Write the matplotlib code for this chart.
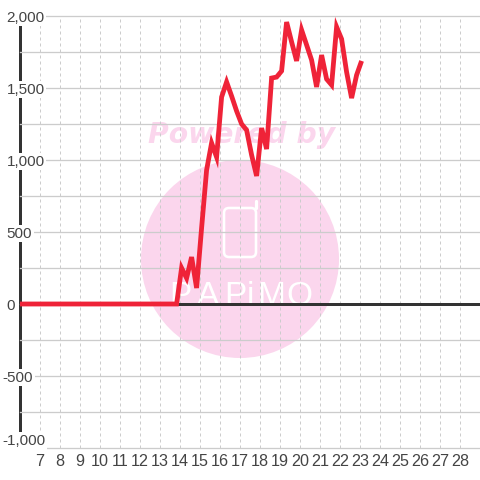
import matplotlib
matplotlib.use("Agg")
import matplotlib.pyplot as plt
from matplotlib.patches import Circle, FancyBboxPatch
from matplotlib.lines import Line2D
from matplotlib.transforms import IdentityTransform

hours = [6.0, 13.83, 14.08, 14.33, 14.58, 14.83, 15.08, 15.33, 15.58, 15.83, 16.08, 16.33,
         16.58, 16.83, 17.08, 17.33, 17.58, 17.83, 18.08, 18.33, 18.58, 18.83, 19.08, 19.33,
         19.58, 19.83, 20.08, 20.33, 20.58, 20.83, 21.08, 21.33, 21.58, 21.83, 22.08, 22.33,
         22.58, 22.83, 23.08]
values = [0, 0, 250, 180, 326, 111, 528, 930, 1118, 1020, 1437, 1542,
          1444, 1340, 1250, 1208, 1035, 889, 1222, 1076, 1569, 1576, 1618, 1958,
          1820, 1688, 1903, 1799, 1694, 1507, 1729, 1562, 1521, 1924, 1840, 1611,
          1430, 1590, 1688]
x_ticks = list(range(7, 29))
y_ticks = [-1000, -500, 0, 500, 1000, 1500, 2000]
y_labels = ["-1,000", "-500", "0", "500", "1,000", "1,500", "2,000"]
y_minor = [-750, -250, 250, 750, 1250, 1750]

PX = 0.72
GRID = "#cccccc"
DARK = "#333333"
RED = "#ef2338"
PINK = "#fbd6ed"
FONT = "Liberation Sans"

fig = plt.figure(figsize=(4.8, 4.8), dpi=100, facecolor="white")
ax = fig.add_axes([20 / 480, 1 - 448 / 480, 460 / 480, 432 / 480])
ax.patch.set_visible(False)
ax.set_axisbelow(True)


def Y(v):
    return 480 - v


# watermark (pixel coordinates of the figure)
ident = IdentityTransform()
fig.add_artist(Circle((240, Y(259)), 99, transform=ident, fc=PINK, ec="none", zorder=-5))
fig.add_artist(FancyBboxPatch((226, Y(255)), 28, 45, boxstyle="round,pad=2,rounding_size=5",
                              transform=ident, fc="none", ec="white", lw=2.6 * PX, zorder=-4))
fig.add_artist(Line2D([255.5, 255.5], [Y(208), Y(201)], transform=ident, color="white",
                      lw=3.2 * PX, zorder=-4, solid_capstyle="round"))
fig.text(241.5, Y(135), "Powered by", transform=ident, ha="center", va="center", color=PINK,
         family="DejaVu Sans", weight="bold", style="oblique", fontsize=20.3, zorder=-4)
for ch, cx in zip("PAPiMO", [180, 208, 235, 250, 271, 299]):
    fig.text(cx, Y(305), ch, transform=ident, ha="center", va="baseline", color="white",
             family=["Liberation Sans Narrow", "Liberation Sans"], fontsize=24, zorder=-4)

ax.set_xlim(6, 29)
ax.set_ylim(-1000, 2000)

ax.set_xticks(x_ticks)
ax.set_xticklabels([str(t) for t in x_ticks])
ax.set_yticks(y_ticks)
ax.set_yticklabels(y_labels)
ax.set_yticks(y_minor, minor=True)

ax.tick_params(axis="both", which="both", length=0, labelsize=11.6, labelcolor="#444444")
ax.tick_params(axis="y", labelsize=11.0)
ax.tick_params(axis="x", pad=4.2)
for lab in ax.get_xticklabels() + ax.get_yticklabels():
    lab.set_family(FONT)

ax.grid(axis="y", which="both", color=GRID, lw=1.3 * PX, clip_on=False)
ax.grid(axis="x", which="major", color=GRID, lw=1 * PX, linestyle=(0, (3, 3)), clip_on=False)

for s in ("top", "right", "bottom"):
    ax.spines[s].set_visible(False)
ax.spines["left"].set_color(DARK)
ax.spines["left"].set_linewidth(3 * PX)
ax.spines["left"].set_zorder(0.4)

for tick, v in zip(ax.yaxis.get_major_ticks(), y_ticks):
    tick.set_pad((17.5 if v < 0 else 13.5) * PX)
    lab = tick.label1
    lab.set_ha("left")
    lab.set_bbox(dict(fc="white", ec="none", pad=1.2))
    if v == 0:
        lab.set_bbox(None)
    if v == -1000:
        lab.set_va("bottom")

ax.axhline(0, color=DARK, lw=3 * PX, zorder=2)
ax.plot(hours, values, color=RED, lw=4.8 * PX, zorder=3, solid_joinstyle="miter",
        solid_capstyle="butt", clip_on=True)

fig.savefig("out.png", dpi=100, facecolor="white")
